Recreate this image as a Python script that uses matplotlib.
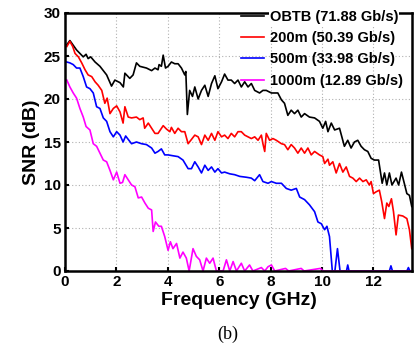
import numpy as np
from matplotlib import pyplot as plt

# OBTB
obtb_f = [0.07, 0.19, 0.45, 0.71, 0.82, 0.9, 1.0, 1.17, 1.36, 1.62, 1.81, 1.94, 2.14, 2.27, 2.33, 2.52,
          2.65, 2.78, 2.91, 3.17, 3.37, 3.5, 3.62, 3.66, 3.75, 3.82, 3.91, 4.01, 4.14, 4.27, 4.4, 4.53,
          4.66, 4.7, 4.76, 4.85, 4.96, 5.05, 5.18, 5.31, 5.44, 5.57, 5.7, 5.83, 5.95, 6.09, 6.21, 6.34,
          6.47, 6.6, 6.73, 6.86, 6.99, 7.12, 7.25, 7.38, 7.57, 7.7, 7.83, 8.03, 8.28, 8.42, 8.54, 8.67,
          8.8, 8.93, 9.06, 9.19, 9.32, 9.51, 9.71, 9.9, 10.03, 10.14, 10.23, 10.36, 10.49, 10.68, 10.87,
          11.0, 11.13, 11.26, 11.39, 11.52, 11.65, 11.78, 11.91, 12.04, 12.2, 12.34, 12.43, 12.52, 12.62,
          12.72, 12.88, 12.98, 13.09, 13.2, 13.3, 13.4, 13.49]
obtb_snr = [26.3, 26.8, 25.7, 24.9, 25.2, 24.7, 24.9, 24.3, 23.8, 22.8, 21.5, 22.2, 21.9, 21.4, 23.0, 22.4,
            22.8, 24.2, 23.8, 23.6, 23.3, 23.6, 23.4, 24.0, 23.8, 25.1, 23.6, 23.8, 24.3, 24.1, 24.1, 23.6,
            22.8, 23.2, 18.2, 21.0, 20.3, 21.4, 20.0, 21.0, 21.6, 20.3, 21.8, 22.7, 21.2, 22.0, 22.9, 22.2,
            22.2, 21.8, 22.2, 21.4, 22.0, 21.4, 21.8, 21.0, 20.7, 21.0, 21.0, 20.7, 20.7, 19.9, 19.5, 18.1,
            18.7, 18.3, 18.7, 17.9, 18.3, 17.9, 17.8, 17.4, 16.6, 17.4, 16.2, 17.2, 16.4, 16.6, 14.5,
            15.2, 14.3, 15.0, 15.2, 14.5, 14.1, 13.9, 13.1, 12.9, 12.9, 10.2, 11.4, 10.0, 11.4,
            10.0, 10.8, 10.0, 11.5, 10.2, 9.0, 8.8, 7.5]

# 200m
f200 = [0.07, 0.19, 0.3, 0.39, 0.52, 0.65, 0.78, 0.9, 1.04, 1.17, 1.29, 1.43, 1.55, 1.64, 1.75, 1.88,
        2.01, 2.14, 2.26, 2.33, 2.46, 2.59, 2.78, 2.91, 3.04, 3.1, 3.24, 3.37, 3.5, 3.62, 3.82, 3.95,
        4.08, 4.14, 4.27, 4.4, 4.53, 4.66, 4.79, 4.92, 5.05, 5.18, 5.31, 5.44, 5.57, 5.7, 5.83, 5.95,
        6.09, 6.21, 6.34, 6.47, 6.6, 6.73, 6.86, 6.99, 7.12, 7.25, 7.38, 7.51, 7.64, 7.7, 7.77, 7.83,
        7.96, 8.09, 8.22, 8.42, 8.54, 8.67, 8.8, 8.93, 9.06, 9.19, 9.32, 9.45, 9.58, 9.71, 9.9, 10.03,
        10.1, 10.23, 10.29, 10.42, 10.55, 10.68, 10.81, 10.94, 11.07, 11.2, 11.33, 11.46, 11.59, 11.72,
        11.84, 11.91, 12.0, 12.1, 12.23, 12.32, 12.43, 12.52, 12.6, 12.7, 12.78, 12.88, 12.97, 13.14,
        13.3, 13.4, 13.49]
snr200 = [26.1, 26.7, 26.1, 25.3, 24.9, 24.2, 23.4, 22.8, 22.6, 22.0, 21.6, 21.0, 19.5, 20.1, 18.3, 18.9,
          19.2, 18.5, 17.2, 19.1, 17.9, 17.8, 17.9, 17.6, 17.8, 16.6, 17.2, 16.6, 16.0, 16.0, 16.9, 16.5,
          16.2, 16.7, 16.0, 16.6, 16.2, 16.2, 14.8, 15.3, 15.8, 15.6, 14.7, 15.8, 15.2, 16.0, 15.2, 16.2,
          15.6, 15.8, 15.4, 16.0, 15.6, 16.2, 16.2, 15.8, 15.6, 15.4, 15.6, 15.2, 15.8, 14.8, 13.9, 16.0,
          15.2, 15.4, 15.2, 14.8, 14.7, 14.1, 14.7, 14.3, 13.7, 14.3, 13.7, 14.3, 13.5, 13.9, 13.5, 13.3,
          12.5, 13.0, 12.3, 12.7, 11.4, 12.5, 11.5, 12.1, 11.0, 10.8, 10.4, 10.8, 10.4, 10.6,
          10.0, 10.4, 9.0, 9.2, 9.4, 8.1, 6.1, 7.9, 7.5, 8.4, 6.9, 4.2, 6.5, 6.4,
          6.1, 4.8, 2.6]

# 500m
f500 = [0.07, 0.19, 0.32, 0.45, 0.58, 0.71, 0.84, 0.97, 1.1, 1.23, 1.36, 1.49, 1.62, 1.75, 1.88, 2.01,
        2.14, 2.26, 2.36, 2.46, 2.59, 2.78, 2.98, 3.17, 3.37, 3.5, 3.62, 3.75, 3.88, 4.01, 4.2, 4.4,
        4.59, 4.79, 4.92, 5.05, 5.18, 5.31, 5.44, 5.57, 5.7, 5.83, 5.95, 6.09, 6.21, 6.41, 6.6, 6.8,
        7.06, 7.25, 7.38, 7.57, 7.7, 7.9, 8.03, 8.22, 8.42, 8.61, 8.8, 9.0, 9.13, 9.32, 9.51, 9.71,
        9.84, 9.97, 10.1, 10.19, 10.29, 10.4, 10.5, 10.6, 10.7, 10.95, 11.0, 11.05, 12.62, 12.68,
        12.74, 13.3, 13.36, 13.42, 13.49]
snr500 = [24.3, 24.2, 24.0, 23.6, 23.6, 22.6, 21.4, 21.2, 20.7, 19.1, 18.9, 17.8, 17.4, 16.2, 15.6, 16.2,
          15.8, 15.0, 15.7, 15.3, 14.8, 15.0, 14.8, 14.7, 14.3, 13.7, 13.9, 14.2, 13.5, 13.5, 13.4, 13.3,
          12.9, 11.9, 11.9, 12.7, 12.1, 11.4, 12.3, 11.7, 12.1, 11.5, 11.9, 11.4, 11.5, 11.3, 11.2, 11.0,
          10.9, 10.8, 10.5, 11.2, 10.4, 10.2, 10.4, 10.2, 10.2, 9.6, 9.4, 9.6, 8.6, 8.3, 7.7, 6.9,
          5.7, 5.5, 4.8, 5.2, 4.0, 0.0, 0.0, 2.6, 0.0, 0.0, 0.7, 0.0, 0.0, 0.6,
          0.0, 0.0, 0.4, 0.0, 0.0]

# 1000m
f1000 = [0.07, 0.19, 0.32, 0.45, 0.58, 0.71, 0.82, 0.97, 1.1, 1.23, 1.36, 1.49, 1.62, 1.75, 1.88, 2.01,
         2.14, 2.24, 2.33, 2.46, 2.59, 2.72, 2.85, 2.98, 3.11, 3.24, 3.37, 3.43, 3.52, 3.65, 3.75, 3.88,
         4.01, 4.1, 4.2, 4.34, 4.47, 4.59, 4.72, 4.83, 4.98, 5.11, 5.24, 5.37, 5.5, 5.63, 5.76, 5.89,
         6.02, 6.15, 6.28, 6.41, 6.54, 6.67, 6.86, 6.99, 7.18, 7.31, 7.64, 7.77, 7.9, 8.03, 8.16, 8.58,
         8.7, 9.19, 9.3, 9.93, 10.05, 13.49]
snr1000 = [22.2, 21.4, 20.7, 20.1, 18.9, 17.9, 16.8, 16.4, 14.8, 14.5, 13.7, 12.9, 12.7, 11.7, 10.6, 11.5,
           10.2, 10.3, 11.2, 10.6, 10.0, 9.8, 8.5, 8.6, 7.9, 7.3, 7.1, 4.6, 5.7, 5.2, 5.2, 4.0,
           2.4, 3.4, 2.6, 3.2, 1.5, 2.2, 1.5, 0.0, 2.6, 1.7, 1.3, 0.0, 1.5, 0.9, 1.5, 0.0,
           0.0, 0.0, 1.3, 0.0, 1.1, 0.0, 0.9, 0.0, 0.7, 0.0, 0.4, 0.0, 0.5, 0.7, 0.0, 0.3,
           0.0, 0.3, 0.0, 0.3, 0.0, 0.0]

labels = ["OBTB (71.88 Gb/s)", "200m (50.39 Gb/s)", "500m (33.98 Gb/s)", "1000m (12.89 Gb/s)"]

plt.rcParams['font.family'] = ['Liberation Sans', 'DejaVu Sans']
plt.rcParams['font.weight'] = 'bold'

fig = plt.figure(figsize=(4.15, 3.46), dpi=100)
ax = fig.add_axes([65/415, 75/346, 347/415, 258/346])

ax.plot(obtb_f, obtb_snr, color="black", lw=1.2, label=labels[0])
ax.plot(f200, snr200, color="red", lw=1.2, label=labels[1])
ax.plot(f500, snr500, color="blue", lw=1.2, label=labels[2])
ax.plot(f1000, snr1000, color="magenta", lw=1.2, label=labels[3])

ax.set_xlim(0, 13.5)
ax.set_ylim(0, 30)
ax.set_xticks([0, 2, 4, 6, 8, 10, 12])
ax.set_yticks([0, 5, 10, 15, 20, 25, 30])
ax.grid(True, color="#b0b0b0", linestyle=(0, (1, 2)), linewidth=0.8)
ax.tick_params(direction="in", length=3, width=1.5, labelsize=11, pad=3)
for lab in ax.get_xticklabels() + ax.get_yticklabels():
    lab.set_fontweight("bold")
for sp in ax.spines.values():
    sp.set_linewidth(1.8)

ax.set_xlabel("Frequency (GHz)", fontsize=14, fontweight="bold", labelpad=2)
ax.set_ylabel("SNR (dB)", fontsize=14, fontweight="bold", labelpad=3)

leg = ax.legend(loc="upper right", bbox_to_anchor=(406/415, 1 - 7/346), bbox_transform=fig.transFigure,
                fontsize=10.5, frameon=False, handlelength=1.6, handletextpad=0.4,
                labelspacing=0.5, borderpad=0.2, borderaxespad=0)
leg.set_zorder(5)
for t in leg.get_texts():
    t.set_fontweight("bold")
# first entry sits over the top spine
leg.get_texts()[0].set_bbox(dict(facecolor="white", edgecolor="none", pad=0.5))

fig.text(228/415, 1 - 334/346, "(b)", ha="center", va="center", fontsize=13,
         family="Liberation Serif", fontweight="normal")

fig.savefig("out.png", dpi=100)
